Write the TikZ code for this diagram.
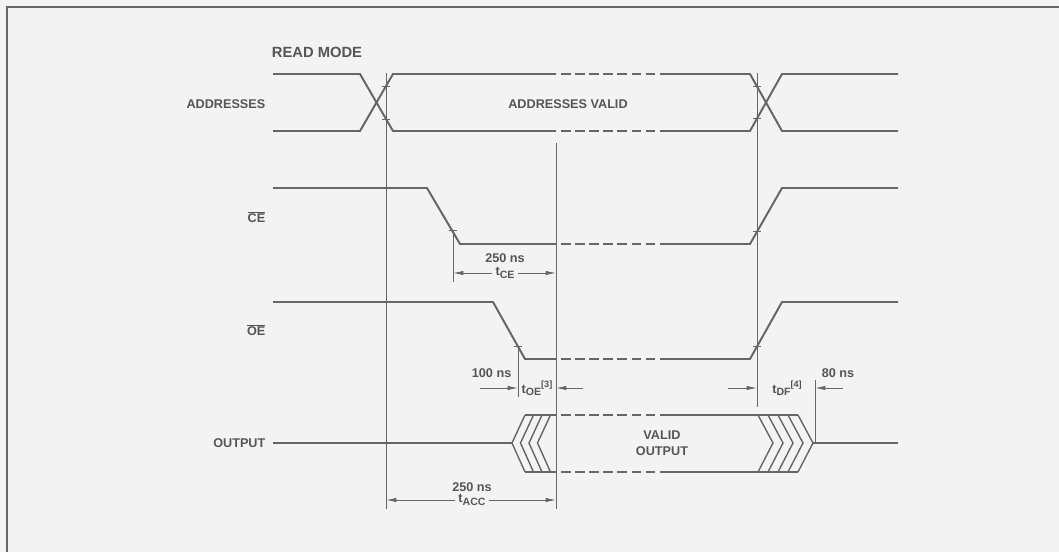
\documentclass[tikz,border=0pt]{standalone}
\usepackage{fontspec}
\setmainfont{Liberation Sans}
\usetikzlibrary{arrows.meta,positioning,calc}
\definecolor{ink}{HTML}{666666}
\definecolor{txt}{HTML}{555555}
\definecolor{paper}{HTML}{F3F3F3}
\newcommand{\tsub}[1]{\raisebox{-.35ex}{\fontsize{7.5}{8}\selectfont #1}}
\newcommand{\tsup}[1]{\raisebox{.9ex}{\fontsize{6.5}{7}\selectfont #1}}
\tikzset{
  sig/.style={draw=ink,line width=1.4pt,line join=miter},
  sigdash/.style={sig,dash pattern=on 2.375mm off 1.15mm},
  hatch/.style={draw=ink,line width=1pt},
  guide/.style={draw=ink,line width=.6pt},
  tickmark/.style={draw=ink,line width=.6pt},
  dimarrow/.style={draw=ink,line width=.6pt,-{Latex[length=2.6mm,width=1.1mm]}},
  lbl/.style={text=txt,font=\fontsize{9}{11.3}\selectfont\bfseries,inner sep=1pt},
  titlelbl/.style={lbl,font=\fontsize{10.5}{12}\selectfont\bfseries},
  sublbl/.style={lbl,fill=paper,inner sep=2pt}
}

\begin{document}
\begin{tikzpicture}[x=0.25mm,y=-0.25mm]
  \fill[paper] (0,0) rectangle (1059,552);
  \useasboundingbox (0,0) rectangle (1059,552);
  \draw[ink,line width=1pt] (1059,7) -- (7,7) -- (7,552);

  % labels
  \node[titlelbl] (readmode) at (317,52) {READ MODE};
  \node[lbl,anchor=east] (addr) at (267,104) {ADDRESSES};
  \node[lbl] (addrvalid) at (568,104) {ADDRESSES VALID};
  \node[lbl,anchor=east] (ce) at (267,217) {$\overline{\mbox{CE}}$};
  \node[lbl,anchor=east] (oe) at (267,330) {$\overline{\mbox{OE}}$};
  \node[lbl,anchor=east] (out) at (267,443) {OUTPUT};
  \node[lbl,align=center] (validout) at (662,443) {VALID\\OUTPUT};

  % addresses
  \draw[sig] (273,74) -- (360,74) -- (393,131) -- (556,131);
  \draw[sig] (273,131) -- (360,131) -- (393,74) -- (556,74);
  \draw[sigdash] (561,74) -- (655,74);
  \draw[sigdash] (561,131) -- (655,131);
  \draw[sig] (660,74) -- (750,74) -- (782,131) -- (898,131);
  \draw[sig] (660,131) -- (750,131) -- (782,74) -- (898,74);

  % chip enable
  \draw[sig] (273,188) -- (427,188) -- (460,244) -- (556,244);
  \draw[sigdash] (561,244) -- (655,244);
  \draw[sig] (660,244) -- (750,244) -- (782,188) -- (898,188);

  % output enable
  \draw[sig] (273,302) -- (493,302) -- (525,359) -- (556,359);
  \draw[sigdash] (561,359) -- (655,359);
  \draw[sig] (660,359) -- (750,359) -- (782,302) -- (898,302);

  % output
  \draw[sig] (273,443) -- (512,443);
  \draw[sig] (525,415) -- (556,415);
  \draw[sig] (525,472) -- (556,472);
  \draw[sigdash] (561,415) -- (655,415);
  \draw[sigdash] (561,472) -- (655,472);
  \draw[sig] (660,415) -- (798,415);
  \draw[sig] (660,472) -- (798,472);
  \draw[sig] (813,443) -- (898,443);
  \draw[hatch] (525,415) -- (512,443) -- (525,472);
  \draw[hatch] (533.5,415) -- (520.5,443) -- (533.5,472);
  \draw[hatch] (542,415) -- (529,443) -- (542,472);
  \draw[hatch] (550.5,415) -- (537.5,443) -- (550.5,472);
  \draw[hatch] (758,415) -- (773,443) -- (758,472);
  \draw[hatch] (768,415) -- (783,443) -- (768,472);
  \draw[hatch] (778,415) -- (793,443) -- (778,472);
  \draw[hatch] (788,415) -- (803,443) -- (788,472);
  \draw[hatch] (798,415) -- (813,443) -- (798,472);

  % timing guides
  \coordinate (g1top) at (386,73);   \coordinate (g1bot) at (386,509);
  \coordinate (g2top) at (556,143);  \coordinate (g2bot) at (556,509);
  \coordinate (g3top) at (757,73);   \coordinate (g3bot) at (757,407);
  \coordinate (gcetop) at (453,230); \coordinate (gcebot) at (453,282);
  \coordinate (goetop) at (518,346); \coordinate (goebot) at (518,397);
  \coordinate (gdftop) at (815,380); \coordinate (gdfbot) at (815,443);
  \draw[guide] (g1top) -- (g1bot);
  \draw[guide] (g2top) -- (g2bot);
  \draw[guide] (g3top) -- (g3bot);
  \draw[guide] (gcetop) -- (gcebot);
  \draw[guide] (goetop) -- (goebot);
  \draw[guide] (gdftop) -- (gdfbot);

  % crossing ticks
  \draw[tickmark] (382,86) -- (390,86);
  \draw[tickmark] (382,119) -- (390,119);
  \draw[tickmark] (753,86.5) -- (761,86.5);
  \draw[tickmark] (753,118.5) -- (761,118.5);
  \draw[tickmark] (449,230.4) -- (457,230.4);
  \draw[tickmark] (753,231.7) -- (761,231.7);
  \draw[tickmark] (514,346.5) -- (522,346.5);
  \draw[tickmark] (753,346.5) -- (761,346.5);

  % t_CE
  \coordinate (cel) at (453,273); \coordinate (cer) at (556,273);
  \node[lbl] (tceval) at (505,258) {250 ns};
  \node[sublbl] (tce) at (505,273) {t\tsub{CE}};
  \draw[dimarrow] (tce) -- (cel);
  \draw[dimarrow] (tce) -- (cer);

  % t_OE
  \coordinate (oel) at (518,388); \coordinate (oer) at (556,388);
  \coordinate (oela) at (480,388); \coordinate (oera) at (583,388);
  \node[lbl,anchor=east] (toeval) at (513,373) {100 ns};
  \node[lbl] (toe) at (537,388) {t\tsub{OE}\tsup{[3]}};
  \draw[dimarrow] (oela) -- (oel);
  \draw[dimarrow] (oera) -- (oer);

  % t_DF
  \coordinate (dfl) at (757,388); \coordinate (dfr) at (815,388);
  \coordinate (dfla) at (728,388); \coordinate (dfra) at (843,388);
  \node[lbl] (tdfval) at (838,373) {80 ns};
  \node[lbl] (tdf) at (787,388) {t\tsub{DF}\tsup{[4]}};
  \draw[dimarrow] (dfla) -- (dfl);
  \draw[dimarrow] (dfra) -- (dfr);

  % t_ACC
  \coordinate (accl) at (386,500); \coordinate (accr) at (556,500);
  \node[lbl] (taccval) at (472,487) {250 ns};
  \node[sublbl] (tacc) at (472,500) {t\tsub{ACC}};
  \draw[dimarrow] (tacc) -- (accl);
  \draw[dimarrow] (tacc) -- (accr);
\end{tikzpicture}
\end{document}
